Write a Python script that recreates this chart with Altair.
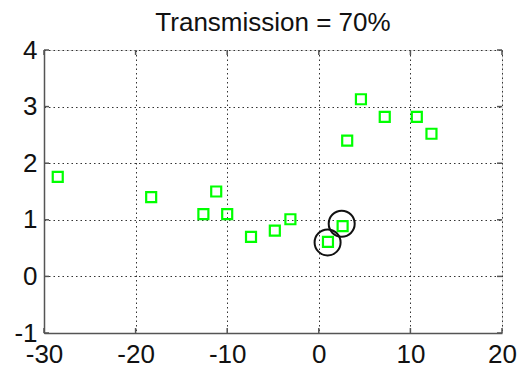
import altair as alt
import pandas as pd

# Green square markers
sq_x = [-28.5, -18.3, -12.6, -11.2, -10.0, -7.4, -4.8, -3.1, 1.0, 2.6, 3.1, 4.6, 7.2, 10.7, 12.3]
sq_y = [1.76, 1.40, 1.10, 1.50, 1.10, 0.70, 0.81, 1.01, 0.61, 0.89, 2.40, 3.13, 2.82, 2.82, 2.52]

# Black circle highlights
ci_x = [0.96, 2.5]
ci_y = [0.60, 0.93]

x_ticks = [-30, -20, -10, 0, 10, 20]
y_ticks = [-1, 0, 1, 2, 3, 4]

sq = pd.DataFrame({"x": sq_x, "y": sq_y})
ci = pd.DataFrame({"x": ci_x, "y": ci_y})
xt = pd.DataFrame({"x": x_ticks})
yt = pd.DataFrame({"y": y_ticks})

FONT = "Liberation Sans"
W, H = 458, 283
xs = alt.Scale(domain=[-30, 20], nice=False, zero=False)
ys = alt.Scale(domain=[-1, 4], nice=False, zero=False)

xenc = alt.X("x:Q", scale=xs,
             axis=alt.Axis(values=x_ticks, title=None, grid=True, gridDash=[1.5, 3],
                           gridColor="#333", gridWidth=1, gridOpacity=1,
                           domainColor="#555", domainWidth=1.5,
                           tickSize=0, labelPadding=8, labelFontSize=26,
                           labelColor="#111", labelFont=FONT, labelFlush=False,
                           labelExpr="'' + datum.value"))
yenc = alt.Y("y:Q", scale=ys,
             axis=alt.Axis(values=y_ticks, title=None, grid=True, gridDash=[1.5, 3],
                           gridColor="#333", gridWidth=1, gridOpacity=1,
                           domainColor="#555", domainWidth=1.5,
                           tickSize=0, labelPadding=7, labelFontSize=26,
                           labelColor="#111", labelFont=FONT, labelFlush=False,
                           labelExpr="'' + datum.value"))

squares = alt.Chart(sq).mark_point(shape="square", filled=False, size=100,
                                   strokeWidth=2.2, color="#00ff00", opacity=1).encode(x=xenc, y=yenc)
circles = alt.Chart(ci).mark_point(shape="circle", filled=False, size=676,
                                   strokeWidth=2, color="#111", opacity=1).encode(x="x:Q", y="y:Q")

tk = dict(color="#555", strokeWidth=1.5)
tick_bottom = alt.Chart(xt).mark_rule(**tk).encode(x="x:Q", y=alt.value(H), y2=alt.value(H - 5))
tick_top = alt.Chart(xt).mark_rule(**tk).encode(x="x:Q", y=alt.value(0), y2=alt.value(5))
tick_left = alt.Chart(yt).mark_rule(**tk).encode(y="y:Q", x=alt.value(0), x2=alt.value(5))
tick_right = alt.Chart(yt).mark_rule(**tk).encode(y="y:Q", x=alt.value(W), x2=alt.value(W - 5))

chart = alt.layer(squares, circles, tick_bottom, tick_top, tick_left, tick_right).properties(
    width=W, height=H,
    title=alt.TitleParams("Transmission = 70%", fontSize=26, fontWeight="normal",
                          font=FONT, color="#111", anchor="middle", offset=1),
    autosize=alt.AutoSizeParams(type="none"),
    padding={"left": 44, "top": 50, "right": 16, "bottom": 34},
).configure_view(stroke="#555", strokeWidth=1.5).configure(background="white")

chart.save("out.html", embed_options={"renderer": "svg", "actions": False})
